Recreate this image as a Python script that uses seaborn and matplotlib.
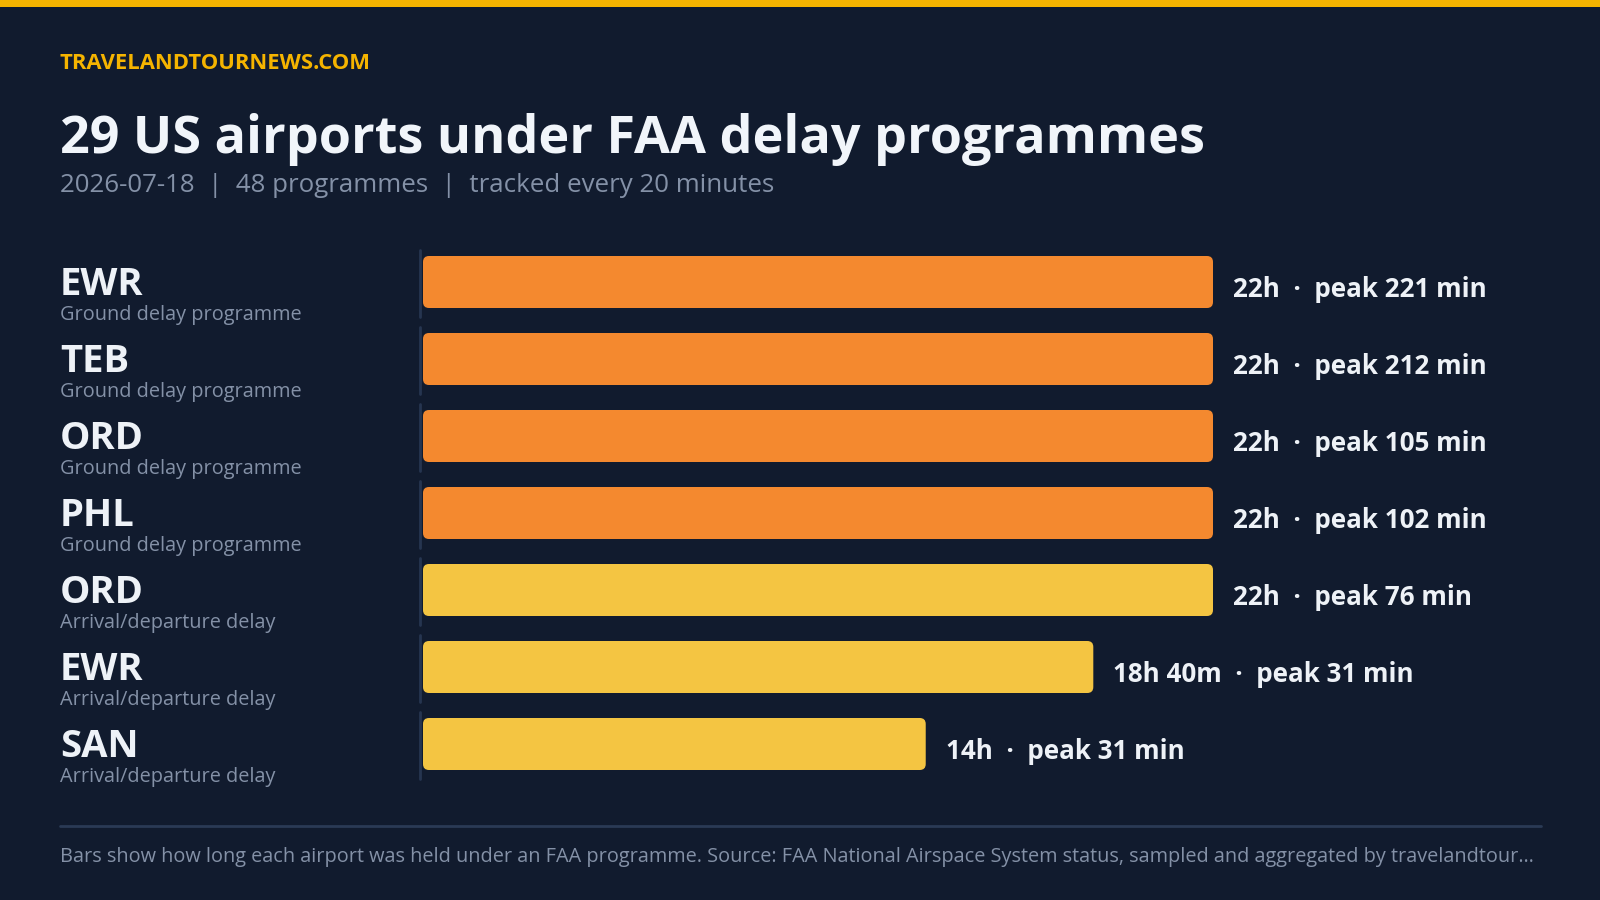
import pandas as pd
import matplotlib.pyplot as plt
import seaborn as sns
from matplotlib.patches import FancyBboxPatch, Rectangle
from matplotlib.lines import Line2D
from matplotlib.transforms import blended_transform_factory


# Chart data
codes = ["EWR", "TEB", "ORD", "PHL", "ORD", "EWR", "SAN"]
kinds = ["Ground delay programme", "Ground delay programme", "Ground delay programme",
         "Ground delay programme", "Arrival/departure delay", "Arrival/departure delay",
         "Arrival/departure delay"]
minutes_held = [1320, 1320, 1320, 1320, 1320, 1120, 840]
peak_delay = [221, 212, 105, 102, 76, 31, 31]
duration_labels = ["22h", "22h", "22h", "22h", "22h", "18h 40m", "14h"]

title = "29 US airports under FAA delay programmes"
subtitle = "2026-07-18  |  48 programmes  |  tracked every 20 minutes"
brand = "TRAVELANDTOURNEWS.COM"
footer = ("Bars show how long each airport was held under an FAA programme. Source: FAA National "
          "Airspace System status, sampled and aggregated by travelandtour\u2026")

# Colours
BG = "#111b2e"
ACCENT = "#f5b400"
ORANGE = "#f4892f"
YELLOW = "#f4c542"
WHITE = "#eef2f7"
MUTED = "#8491a7"
RULE = "#263550"

df = pd.DataFrame({
    "row": [f"{c}-{i}" for i, c in enumerate(codes)],
    "hours": [m / 60 for m in minutes_held],
    "kind": kinds,
})

sns.set_theme(style="white")
plt.rcParams["font.family"] = ["Open Sans", "DejaVu Sans"]

W, H = 1600, 900
fig = plt.figure(figsize=(16, 9), dpi=100, facecolor=BG)


def fy(px):
    return 1 - px / H


# Bar axes: x=0 at 423px, 22h reaches 1213px; rows 77px apart, first centred at 282px
left_px, right_px = 423, 1540
px_per_hour = 790 / 22
xmax = (right_px - left_px) / px_per_hour
row_px = 77
top_px = 282 - row_px / 2
bot_px = top_px + row_px * len(codes)
ax = fig.add_axes([left_px / W, fy(bot_px), (right_px - left_px) / W, (bot_px - top_px) / H])
ax.set_facecolor("none")

sns.barplot(
    data=df, x="hours", y="row", hue="kind", orient="h",
    palette={"Ground delay programme": ORANGE, "Arrival/departure delay": YELLOW},
    saturation=1, dodge=False, width=52 / row_px, legend=False, ax=ax,
)
ax.set_xlim(0, xmax)
ax.set_ylim(len(codes) - 0.5, -0.5)
ax.axis("off")

# Rounded bar ends
r_px = 6
rx = r_px / px_per_hour
ry = r_px / row_px
for p in list(ax.patches):
    x, y, w, h = p.get_x(), p.get_y(), p.get_width(), p.get_height()
    if w <= 0:
        p.remove()
        continue
    color = p.get_facecolor()
    p.remove()
    ax.add_patch(FancyBboxPatch(
        (x, y), w, h, boxstyle=f"round,pad=0,rounding_size={rx}",
        mutation_aspect=ry / rx, facecolor=color, edgecolor="none",
    ))

# Row labels, divider and value labels
tr = blended_transform_factory(fig.transFigure, ax.transData)
for i, (code, kind) in enumerate(zip(codes, kinds)):
    ax.text(60 / W, i + 13 / row_px, code, transform=tr, fontsize=27.5, fontweight="bold",
            color=WHITE, va="baseline", ha="left")
    ax.text(60 / W, i + 38 / row_px, kind, transform=tr, fontsize=14.3,
            color=MUTED, va="baseline", ha="left")
    ax.add_line(Line2D([420 / W, 420 / W], [i - 32 / row_px, i + 35 / row_px],
                       transform=tr, color=RULE, lw=2, clip_on=False))
    ax.annotate(f"{duration_labels[i]}  \u00b7  peak {peak_delay[i]} min",
                xy=(minutes_held[i] / 60, i), xytext=(20 * 0.72, -15 * 0.72),
                textcoords="offset points", fontsize=18.7, fontweight="bold",
                color=WHITE, va="baseline", ha="left", annotation_clip=False)

# Header
fig.add_artist(Rectangle((0, fy(7)), 1, 7 / H, transform=fig.transFigure,
                         facecolor=ACCENT, edgecolor="none"))
fig.text(60 / W, fy(69), brand, fontsize=15.8, fontweight="bold", color=ACCENT, va="baseline")
fig.text(60 / W, fy(153), title, fontsize=37.5, fontweight="bold", color="#f1f5fa",
         va="baseline")
fig.text(60 / W, fy(192), subtitle, fontsize=18.6, color=MUTED, va="baseline")

# Footer
fig.add_artist(Line2D([60 / W, 1541 / W], [fy(826), fy(826)], transform=fig.transFigure,
                      color="#2a3a55", lw=2))
fig.text(60 / W, fy(862), footer, fontsize=14.35, color=MUTED, va="baseline")

fig.savefig("out.png", dpi=100, facecolor=BG)
